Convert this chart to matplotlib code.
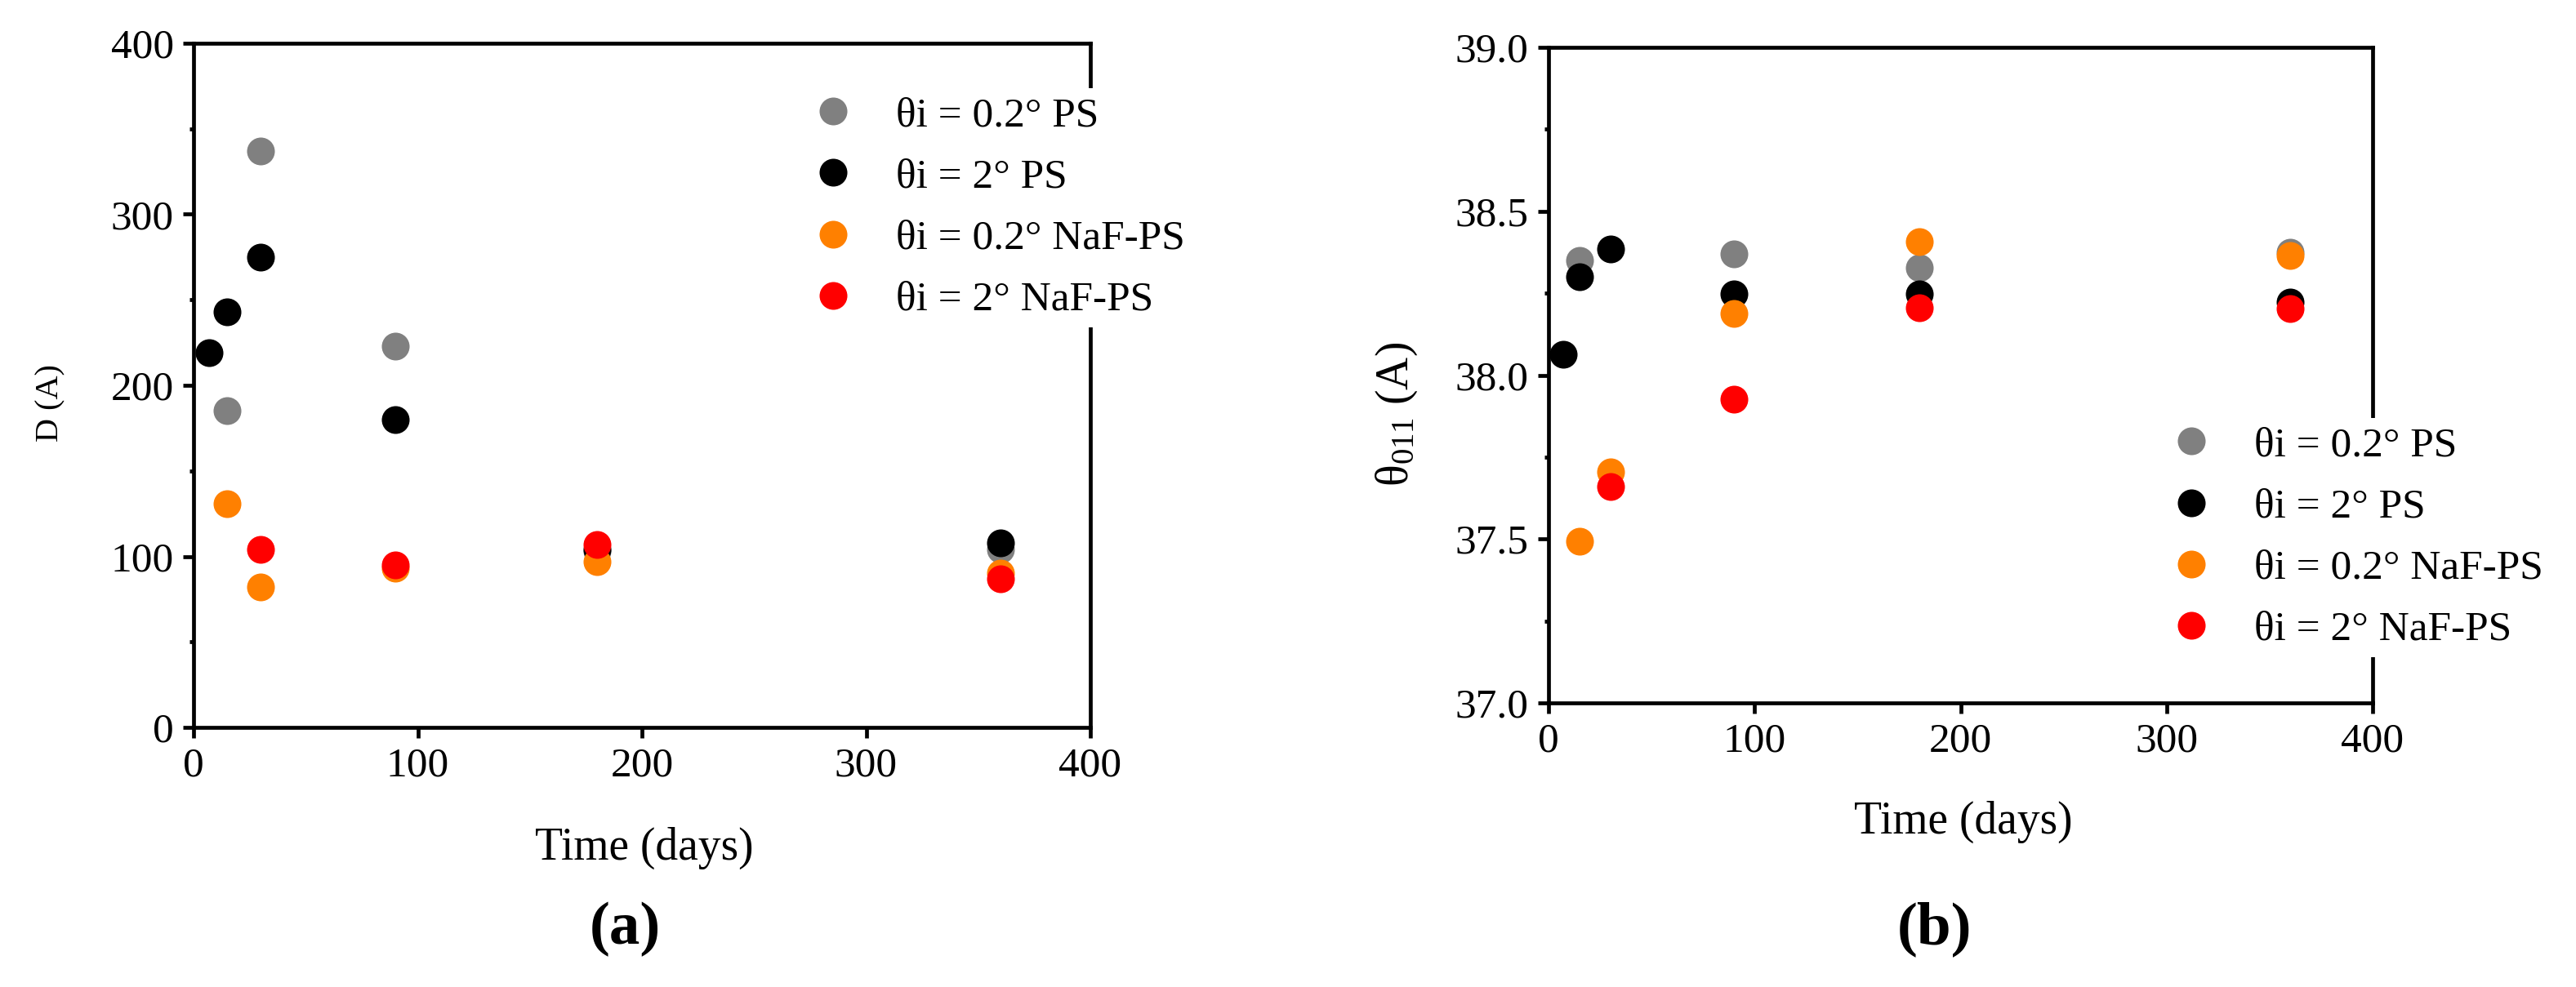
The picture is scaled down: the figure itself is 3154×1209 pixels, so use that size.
"""Crystallite size D and peak position theta_011 versus time (two panels)."""

import matplotlib
import matplotlib.pyplot as plt
from matplotlib.ticker import MultipleLocator

matplotlib.use("Agg")

plt.rcParams["font.family"] = ["Liberation Serif", "DejaVu Serif"]
plt.rcParams["mathtext.fontset"] = "custom"
plt.rcParams["mathtext.rm"] = "Liberation Serif"
plt.rcParams["mathtext.it"] = "Liberation Serif"

GRAY = "#808080"
BLACK = "#000000"
ORANGE = "#ff8000"
RED = "#ff0000"

LABELS = [
    "θi = 0.2° PS",
    "θi = 2° PS",
    "θi = 0.2° NaF-PS",
    "θi = 2° NaF-PS",
]

# panel (a): D (A)
d_days_gray = [15, 30, 90, 180, 360]
d_gray = [185, 337, 223, 103, 104]
d_days_black = [7, 15, 30, 90, 180, 360]
d_black = [219, 243, 275, 180, 104, 108]
d_days_orange = [15, 30, 90, 180, 360]
d_orange = [131, 82, 93, 97, 90]
d_days_red = [30, 90, 180, 360]
d_red = [104, 95, 107, 87]

# panel (b): theta_011 (A)
t_days_gray = [15, 90, 180, 360]
t_gray = [38.35, 38.37, 38.327, 38.376]
t_days_black = [7, 15, 30, 90, 180, 360]
t_black = [38.064, 38.30, 38.385, 38.249, 38.249, 38.224]
t_days_orange = [15, 30, 90, 180, 360]
t_orange = [37.494, 37.704, 38.188, 38.406, 38.364]
t_days_red = [30, 90, 180, 360]
t_red = [37.66, 37.926, 38.205, 38.202]

W, H = 3154, 1209
fig = plt.figure(figsize=(W / 100, H / 100), dpi=100)


def px_axes(x0, x1, y0, y1):
    return fig.add_axes([x0 / W, 1 - y1 / H, (x1 - x0) / W, (y1 - y0) / H])


def style_axes(ax):
    for sp in ax.spines.values():
        sp.set_linewidth(3.4)
    ax.tick_params(which="both", direction="out", top=False, right=False,
                   width=3.4, labelsize=37, pad=8)
    ax.tick_params(which="major", length=9.5)
    ax.tick_params(which="minor", length=3.6)
    ax.xaxis.set_major_locator(MultipleLocator(100))
    ax.set_xlim(0, 400)


def add_legend(ax, x, y):
    leg = ax.legend(loc="upper left", bbox_to_anchor=(x / W, 1 - y / H),
                    bbox_transform=fig.transFigure, borderaxespad=0,
                    fontsize=37, frameon=True, fancybox=False,
                    facecolor="white", edgecolor="none", framealpha=1,
                    handlelength=1.0, handletextpad=1.0, borderpad=0.2,
                    labelspacing=0.55, numpoints=1)
    leg.set_zorder(5)


def scatter_series(ax, series):
    for (days, vals), color, label in zip(series, [GRAY, BLACK, ORANGE, RED], LABELS):
        ax.plot(days, vals, linestyle="none", marker="o", markersize=24.5,
                markeredgewidth=0, color=color, label=label, clip_on=False)


# (a)
ax1 = px_axes(237, 1335, 53, 891)
style_axes(ax1)
scatter_series(ax1, [(d_days_gray, d_gray), (d_days_black, d_black),
                     (d_days_orange, d_orange), (d_days_red, d_red)])
ax1.set_ylim(0, 400)
ax1.yaxis.set_major_locator(MultipleLocator(100))
ax1.yaxis.set_minor_locator(MultipleLocator(50))
add_legend(ax1, 984, 108)

# (b)
ax2 = px_axes(1896, 2905, 58, 861)
style_axes(ax2)
scatter_series(ax2, [(t_days_gray, t_gray), (t_days_black, t_black),
                     (t_days_orange, t_orange), (t_days_red, t_red)])
ax2.set_ylim(37.0, 39.0)
ax2.yaxis.set_major_locator(MultipleLocator(0.5))
ax2.yaxis.set_minor_locator(MultipleLocator(0.25))
ax2.yaxis.set_major_formatter(matplotlib.ticker.FormatStrFormatter("%.1f"))
add_legend(ax2, 2647, 512)

# axis labels and panel captions
fig.text(789 / W, 1 - 1039 / H, "Time (days)", fontsize=40, ha="center", va="center")
fig.text(2404 / W, 1 - 1007 / H, "Time (days)", fontsize=40, ha="center", va="center")
fig.text(62 / W, 1 - 494 / H, "D (A)", fontsize=29, rotation=90, ha="center", va="center")
fig.text(1710 / W, 1 - 507 / H, "θ$_{011}$ (A)", fontsize=40, rotation=90,
         ha="center", va="center")
fig.text(765 / W, 1 - 1138 / H, "(a)", fontsize=54, fontweight="bold",
         ha="center", va="center")
fig.text(2368 / W, 1 - 1138 / H, "(b)", fontsize=54, fontweight="bold",
         ha="center", va="center")

fig.savefig("out.png", dpi=100)
plt.close(fig)
